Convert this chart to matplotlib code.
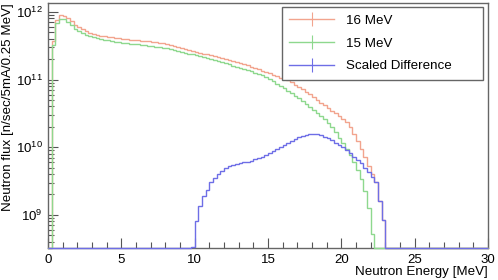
import numpy as np
import matplotlib
matplotlib.use("Agg")
import matplotlib.pyplot as plt
from matplotlib.lines import Line2D
from matplotlib.ticker import MultipleLocator, LogLocator, NullFormatter

plt.rcParams['font.family'] = ['Liberation Sans', 'DejaVu Sans']

# histogram binning: 0.25 MeV bins from 0 to 30 MeV
bin_width = 0.25
energy_max = 30.0

# 16 MeV beam, bins starting at 0.25 MeV
flux_16_start = 0.25
flux_16 = [
    3.69e11, 7.69e11, 8.91e11, 8.71e11, 8.13e11, 7.24e11, 6.46e11, 5.89e11,
    5.50e11, 5.13e11, 4.90e11, 4.68e11, 4.57e11, 4.47e11, 4.37e11, 4.27e11,
    4.19e11, 4.12e11, 4.05e11, 3.98e11, 3.94e11, 3.89e11, 3.85e11, 3.80e11,
    3.76e11, 3.72e11, 3.67e11, 3.63e11, 3.57e11, 3.51e11, 3.45e11, 3.39e11,
    3.27e11, 3.16e11, 3.05e11, 2.95e11, 2.85e11, 2.75e11, 2.66e11, 2.57e11,
    2.49e11, 2.42e11, 2.35e11, 2.28e11, 2.21e11, 2.15e11, 2.08e11, 2.02e11,
    1.96e11, 1.90e11, 1.83e11, 1.76e11, 1.69e11, 1.62e11, 1.55e11, 1.48e11,
    1.41e11, 1.35e11, 1.29e11, 1.23e11, 1.17e11, 1.12e11, 1.07e11, 1.02e11,
    9.77e10, 9.12e10, 8.41e10, 7.76e10, 7.16e10, 6.61e10, 6.03e10, 5.50e10,
    5.01e10, 4.57e10, 4.17e10, 3.80e10, 3.47e10, 3.16e10, 2.88e10, 2.63e10,
    2.34e10, 2.00e10, 1.58e10, 1.23e10, 9.55e9, 7.08e9, 5.25e9, 3.98e9,
    3.09e9, 1.58e9, 8.51e8,
]

# 15 MeV beam
flux_15_start = 0.25
flux_15 = [
    3.24e11, 6.92e11, 7.94e11, 7.76e11, 7.08e11, 6.31e11, 5.62e11, 5.13e11,
    4.84e11, 4.52e11, 4.37e11, 4.22e11, 4.09e11, 3.98e11, 3.89e11, 3.80e11,
    3.72e11, 3.63e11, 3.55e11, 3.47e11, 3.43e11, 3.39e11, 3.35e11, 3.31e11,
    3.25e11, 3.20e11, 3.14e11, 3.09e11, 3.03e11, 2.99e11, 2.93e11, 2.88e11,
    2.80e11, 2.72e11, 2.64e11, 2.57e11, 2.49e11, 2.42e11, 2.36e11, 2.29e11,
    2.21e11, 2.14e11, 2.07e11, 2.00e11, 1.93e11, 1.86e11, 1.80e11, 1.74e11,
    1.67e11, 1.60e11, 1.55e11, 1.50e11, 1.44e11, 1.38e11, 1.32e11, 1.26e11,
    1.20e11, 1.15e11, 1.08e11, 1.02e11, 9.44e10, 8.71e10, 8.04e10, 7.41e10,
    6.84e10, 6.31e10, 5.75e10, 5.25e10, 4.79e10, 4.37e10, 3.94e10, 3.55e10,
    3.20e10, 2.88e10, 2.57e10, 2.29e10, 2.00e10, 1.66e10, 1.38e10, 1.15e10,
    9.33e9, 7.59e9, 6.03e9, 4.68e9, 3.39e9, 2.24e9, 1.26e9, 5.13e8,
]

# scaled difference
diff_start = 9.75
diff = [
    3.4e8, 8.13e8, 1.35e9, 1.91e9, 2.34e9, 3.02e9, 3.55e9, 4.07e9,
    4.47e9, 4.90e9, 5.19e9, 5.37e9, 5.62e9, 5.82e9, 5.96e9, 6.10e9,
    6.31e9, 6.61e9, 6.92e9, 7.24e9, 7.76e9, 8.32e9, 8.91e9, 9.55e9,
    1.02e10, 1.08e10, 1.16e10, 1.24e10, 1.32e10, 1.40e10, 1.46e10, 1.51e10,
    1.55e10, 1.57e10, 1.55e10, 1.50e10, 1.43e10, 1.36e10, 1.27e10, 1.17e10,
    1.08e10, 1.00e10, 9.12e9, 8.13e9, 7.24e9, 6.46e9, 5.75e9, 5.01e9,
    4.37e9, 3.63e9, 3.09e9, 1.58e9, 8.51e8,
]

series = [
    ("16 MeV", flux_16_start, flux_16, "#f2a48e"),
    ("15 MeV", flux_15_start, flux_15, "#8ed88e"),
    ("Scaled Difference", diff_start, diff, "#6e6ee6"),
]

y_min, y_max = 3.2e8, 1.36e12

fig = plt.figure(figsize=(4.98, 2.80), dpi=100)
ax = fig.add_axes([0.0964, 0.113, 0.8836, 0.877])

edges = np.arange(0, energy_max + bin_width / 2, bin_width)
n_bins = len(edges) - 1

handles = []
for label, start, vals, col in series:
    full = np.zeros(n_bins)
    i0 = int(round(start / bin_width))
    full[i0:i0 + len(vals)] = vals
    # empty bins are drawn on the lower frame, as ROOT does on log scale
    full[full <= 0] = y_min
    ax.stairs(full, edges, baseline=None, color=col, linewidth=1.0,
              zorder=3, clip_on=False)
    handles.append(Line2D([], [], color=col, linewidth=1.0, marker='|',
                          markersize=10, markeredgewidth=0.8))

ax.set_yscale('log')
ax.set_xlim(0, energy_max)
ax.set_ylim(y_min, y_max)

ax.xaxis.set_major_locator(MultipleLocator(5))
ax.xaxis.set_minor_locator(MultipleLocator(1))
ax.yaxis.set_major_locator(LogLocator(base=10))
ax.yaxis.set_minor_locator(LogLocator(base=10, subs=np.arange(2, 10)))
ax.yaxis.set_minor_formatter(NullFormatter())

ax.tick_params(axis='both', which='both', direction='in', top=False, right=False,
               labelsize=9.5, color='#555555')
ax.tick_params(axis='both', which='major', length=7, width=0.8, pad=4)
ax.tick_params(axis='both', which='minor', length=4, width=0.8)
for sp in ax.spines.values():
    sp.set_color('#666666')
    sp.set_linewidth(1.0)

ax.set_xlabel("Neutron Energy [MeV]", fontsize=9.6, loc='right', labelpad=0)
ax.set_ylabel("Neutron flux [n/sec/5mA/0.25 MeV]", fontsize=9.6, loc='top', labelpad=1)

leg = ax.legend(handles, [s[0] for s in series], loc='upper left',
                bbox_to_anchor=(0.5657, 0.740, 0.405, 0.234),
                bbox_transform=fig.transFigure, mode='expand',
                fontsize=9.6, frameon=True, fancybox=False, framealpha=1,
                edgecolor='#666666', handlelength=3.4, handletextpad=0.9,
                labelspacing=0.78, borderpad=0.55, numpoints=1,
                borderaxespad=0)
leg.get_frame().set_linewidth(1.0)

fig.savefig("out.png", dpi=100)
